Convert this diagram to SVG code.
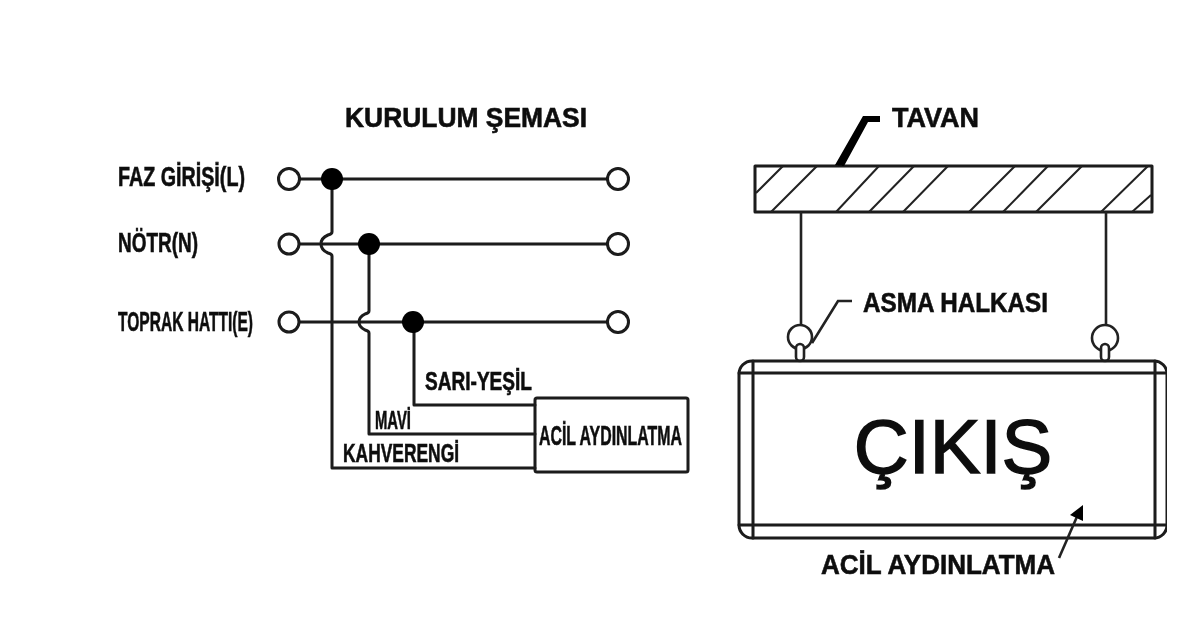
<svg xmlns="http://www.w3.org/2000/svg" width="1200" height="622" viewBox="0 0 1200 622">
<style>
.w{fill:none;stroke:#1a1a1a;stroke-width:3;stroke-linecap:round;stroke-linejoin:round}
.t{fill:none;stroke:#222;stroke-width:2.6}
.h{fill:none;stroke:#222;stroke-width:2}
.o{fill:#fff;stroke:#1a1a1a;stroke-width:3}
.d{fill:#000}
text{font-family:"Liberation Sans",Arial,sans-serif;font-weight:700;fill:#111;stroke:#111;stroke-width:.6}
</style>
<defs><filter id="b" x="0" y="0" width="100%" height="100%" filterUnits="objectBoundingBox"><feGaussianBlur stdDeviation="0.6"/></filter></defs>
<rect width="1200" height="622" fill="#fff"/>
<g filter="url(#b)">
<g id="connectors">
<path class="w" d="M289 179H618M289 244H618M289 322H618"/>
<path class="w" d="M332 179V232Q332 234 328 235Q321 238 321 244Q321 250 328 253Q332 254 332 256V468H535"/>
<path class="w" d="M369 244V311Q369 313 365 314Q359 317 359 322Q359 327 365 330Q369 331 369 333V434H535"/>
<path class="w" d="M414 322V405H535"/>
</g>
<g id="title"><text x="345" y="127" font-size="27" textLength="242" lengthAdjust="spacingAndGlyphs">KURULUM ŞEMASI</text></g>
<g id="label-l"><text x="118" y="186" font-size="27" textLength="127" lengthAdjust="spacingAndGlyphs">FAZ GİRİŞİ(L)</text></g>
<g id="label-n"><text x="118" y="252" font-size="27" textLength="80" lengthAdjust="spacingAndGlyphs">NÖTR(N)</text></g>
<g id="label-e"><text x="118" y="331" font-size="27" textLength="135" lengthAdjust="spacingAndGlyphs">TOPRAK HATTI(E)</text></g>
<g id="term-l-in"><circle class="o" cx="289" cy="179" r="10.5"/></g>
<g id="term-n-in"><circle class="o" cx="289" cy="244" r="10"/></g>
<g id="term-e-in"><circle class="o" cx="289" cy="322" r="10"/></g>
<g id="term-l-out"><circle class="o" cx="618" cy="179" r="10.5"/></g>
<g id="term-n-out"><circle class="o" cx="618" cy="244" r="10.5"/></g>
<g id="term-e-out"><circle class="o" cx="618" cy="322" r="10.5"/></g>
<g id="dot-l"><circle class="d" cx="332" cy="179" r="11"/></g>
<g id="dot-n"><circle class="d" cx="369" cy="244" r="11"/></g>
<g id="dot-e"><circle class="d" cx="413" cy="322" r="11"/></g>
<g id="wire-labels">
<text x="425" y="390" font-size="25" textLength="107" lengthAdjust="spacingAndGlyphs">SARI-YEŞİL</text>
<text x="375" y="429" font-size="26" textLength="36" lengthAdjust="spacingAndGlyphs">MAVİ</text>
<text x="343" y="462" font-size="26" textLength="116" lengthAdjust="spacingAndGlyphs">KAHVERENGİ</text>
</g>
<g id="emergency-box"><rect class="w" x="535" y="398" width="153" height="74" rx="2"/>
<text x="539" y="445" font-size="27" textLength="143" lengthAdjust="spacingAndGlyphs">ACİL AYDINLATMA</text></g>
<g id="ceiling">
<rect class="w" x="755" y="166" width="397" height="46"/>
<path class="h" d="M756 193L783 166M771 212L817 166M836 212L879 166M869 212L914 166M903 212L948 166M969 212L1015 166M1003 212L1048 166M1036 212L1082 166M1101 212L1148 166M1132 212L1151 195"/>
<path d="M835 165L863 116H880V122H868L844 166Z" fill="#000"/>
<text x="892" y="127" font-size="27" textLength="87" lengthAdjust="spacingAndGlyphs">TAVAN</text>
</g>
<g id="hangers">
<path class="t" d="M801 212V325M1106 212V325"/>
<circle class="t" cx="800" cy="337" r="12"/>
<circle class="t" cx="1105" cy="338" r="13"/>
<rect class="t" x="796" y="344" width="8" height="17" rx="4" style="fill:#fff"/>
<rect class="t" x="1101" y="344" width="8" height="17" rx="4" style="fill:#fff"/>
<path class="t" d="M812 343L838 301H852"/>
<text x="863" y="312" font-size="27" textLength="185" lengthAdjust="spacingAndGlyphs">ASMA HALKASI</text>
</g>
<g id="exit-sign">
<rect class="w" x="739" y="361" width="428" height="177" rx="13"/>
<path class="w" d="M739 373H1167M739 525H1167M753 361V538M1155 361V538"/>
<text x="953" y="473" font-size="76" text-anchor="middle" style="font-weight:400;stroke-width:1.5">ÇIKIŞ</text>
<path class="t" d="M1059 558L1079 512"/>
<path d="M1083 505L1070 515L1083 521Z" fill="#000"/>
<text x="821" y="574" font-size="28" textLength="234" lengthAdjust="spacingAndGlyphs">ACİL AYDINLATMA</text>
</g>
</g>
</svg>
